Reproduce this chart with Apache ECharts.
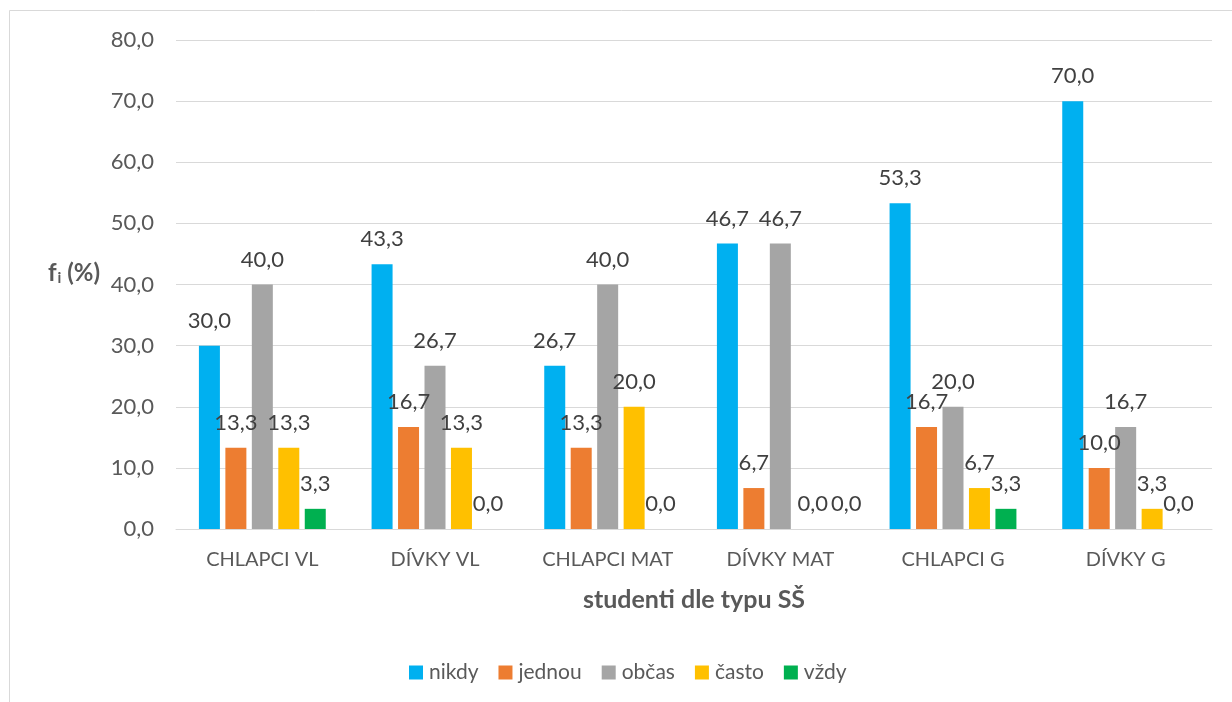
<!DOCTYPE html>
<html>
<head>
<meta charset="utf-8">
<script src="https://cdn.jsdelivr.net/npm/echarts@6/dist/echarts.min.js"></script>
<style>
  html, body { margin: 0; padding: 0; background: #fff; }
  #chart { width: 1232px; height: 702px; }
</style>
</head>
<body>
<div id="chart"></div>
<script>
// Categories (student groups by school type)
const categories = ['CHLAPCI VL', 'DÍVKY VL', 'CHLAPCI MAT', 'DÍVKY MAT', 'CHLAPCI G', 'DÍVKY G'];

// Relative frequencies f_i (%) per answer
const nikdy  = [30.0, 43.3, 26.7, 46.7, 53.3, 70.0];
const jednou = [13.3, 16.7, 13.3, 6.7, 16.7, 10.0];
const obcas  = [40.0, 26.7, 40.0, 46.7, 20.0, 16.7];
const casto  = [13.3, 13.3, 20.0, 0.0, 6.7, 3.3];
const vzdy   = [3.3, 0.0, 0.0, 0.0, 3.3, 0.0];

const seriesDefs = [
  { name: 'nikdy',  data: nikdy,  color: '#00B0F0' },
  { name: 'jednou', data: jednou, color: '#ED7D31' },
  { name: 'občas',  data: obcas,  color: '#A5A5A5' },
  { name: 'často',  data: casto,  color: '#FFC000' },
  { name: 'vždy',   data: vzdy,   color: '#00B050' }
];

// Small horizontal nudges so the two neighbouring zero labels don't collide
const labelNudge = { 'často:3': [6, 0], 'vždy:3': [13, 0] };

const FONT = 'Lato, "Open Sans", sans-serif';
const fmt = v => Number(v).toFixed(1).replace('.', ',');

const chart = echarts.init(document.getElementById('chart'), null, { renderer: 'canvas' });

chart.setOption({
  animation: false,
  backgroundColor: '#ffffff',
  textStyle: { fontFamily: FONT },
  graphic: [{
    type: 'rect',
    shape: { x: 9.5, y: 10.5, width: 1400, height: 1000 },
    style: { fill: 'none', stroke: '#d9d9d9', lineWidth: 1 },
    silent: true,
    z: -10
  }],
  title: {
    text: '{f|f}{sub|i}{p| (%)}',
    left: 43,
    top: 256,
    textStyle: {
      rich: {
        f:   { fontFamily: FONT, fontSize: 24, fontWeight: 'bold', color: '#595959' },
        sub: { fontFamily: FONT, fontSize: 15, fontWeight: 'bold', color: '#595959', verticalAlign: 'bottom', padding: [10, 0, 0, 1] },
        p:   { fontFamily: FONT, fontSize: 24, fontWeight: 'bold', color: '#595959' }
      }
    }
  },
  grid: { left: 176, right: 20, top: 40, bottom: 173 },
  legend: {
    data: seriesDefs.map(s => s.name),
    left: 404,
    top: 657,
    icon: 'rect',
    itemWidth: 14,
    itemHeight: 14,
    itemGap: 20,
    textStyle: { fontFamily: FONT, fontSize: 21, color: '#595959', padding: [0, 0, 0, 1] }
  },
  xAxis: {
    type: 'category',
    data: categories,
    name: 'studenti dle typu SŠ',
    nameLocation: 'middle',
    nameGap: 58,
    nameTextStyle: { fontFamily: FONT, fontSize: 25, fontWeight: 'bold', color: '#595959' },
    axisLine: { lineStyle: { color: '#d9d9d9', width: 1 } },
    axisTick: { show: false },
    axisLabel: { fontFamily: FONT, fontSize: 20, color: '#595959', margin: 21 }
  },
  yAxis: {
    type: 'value',
    min: 0,
    max: 80,
    interval: 10,
    axisLine: { show: false },
    axisTick: { show: false },
    splitLine: { lineStyle: { color: '#d9d9d9', width: 1 } },
    axisLabel: { fontFamily: FONT, fontSize: 22, color: '#595959', margin: 22, formatter: fmt }
  },
  series: seriesDefs.map(s => ({
    name: s.name,
    type: 'bar',
    data: s.data.map((v, i) => {
      const off = labelNudge[s.name + ':' + i];
      return off ? { value: v, label: { offset: off } } : v;
    }),
    barWidth: 21,
    barGap: '26%',
    itemStyle: { color: s.color },
    label: {
      show: true,
      position: 'top',
      distance: 14,
      fontFamily: FONT,
      fontSize: 22,
      color: '#404040',
      formatter: p => fmt(p.value)
    }
  }))
});
</script>
</body>
</html>
